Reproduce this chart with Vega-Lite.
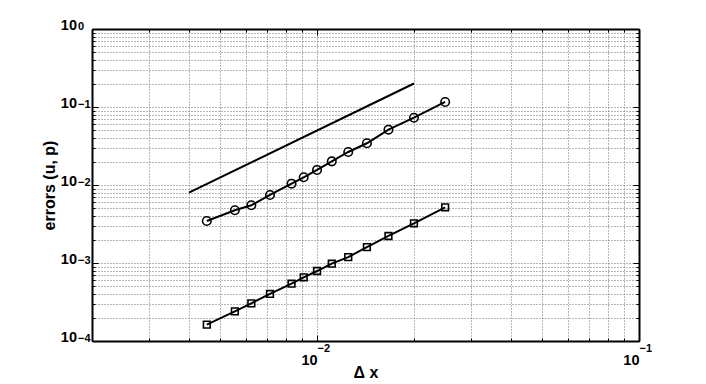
{
  "$schema": "https://vega.github.io/schema/vega-lite/v6.json",
  "width": 547,
  "height": 312,
  "autosize": {"type": "none"},
  "padding": {"left": 92, "top": 29, "right": 67, "bottom": 43},
  "background": "#ffffff",
  "config": {
    "view": {"stroke": null},
    "axis": {
      "labelFont": "Liberation Sans",
      "titleFont": "Liberation Sans",
      "labelFontWeight": "bold",
      "titleFontWeight": "bold",
      "labelColor": "#000000",
      "titleColor": "#000000",
      "tickColor": "#000000",
      "domainColor": "#000000",
      "labelOverlap": false,
      "labelFlush": false,
      "labelBound": false
    }
  },
  "datasets": {
    "ref": [
      {"dx": 0.004, "err": 0.008},
      {"dx": 0.02, "err": 0.2}
    ],
    "err": [
      {"series": "u", "dx": 0.0045455, "err": 0.00346},
      {"series": "u", "dx": 0.0055556, "err": 0.00474},
      {"series": "u", "dx": 0.00625, "err": 0.0055},
      {"series": "u", "dx": 0.0071429, "err": 0.00745},
      {"series": "u", "dx": 0.0083333, "err": 0.0104},
      {"series": "u", "dx": 0.0090909, "err": 0.01256},
      {"series": "u", "dx": 0.01, "err": 0.0156},
      {"series": "u", "dx": 0.0111111, "err": 0.0201},
      {"series": "u", "dx": 0.0125, "err": 0.0265},
      {"series": "u", "dx": 0.0142857, "err": 0.0343},
      {"series": "u", "dx": 0.0166667, "err": 0.0512},
      {"series": "u", "dx": 0.02, "err": 0.0729},
      {"series": "u", "dx": 0.025, "err": 0.116},
      {"series": "p", "dx": 0.0045455, "err": 0.000162},
      {"series": "p", "dx": 0.0055556, "err": 0.00024},
      {"series": "p", "dx": 0.00625, "err": 0.000304},
      {"series": "p", "dx": 0.0071429, "err": 0.000401},
      {"series": "p", "dx": 0.0083333, "err": 0.000543},
      {"series": "p", "dx": 0.0090909, "err": 0.000656},
      {"series": "p", "dx": 0.01, "err": 0.000789},
      {"series": "p", "dx": 0.0111111, "err": 0.00098},
      {"series": "p", "dx": 0.0125, "err": 0.00119},
      {"series": "p", "dx": 0.0142857, "err": 0.0016},
      {"series": "p", "dx": 0.0166667, "err": 0.00222},
      {"series": "p", "dx": 0.02, "err": 0.00323},
      {"series": "p", "dx": 0.025, "err": 0.00518}
    ]
  },
  "layer": [
    {
      "data": {"name": "ref"},
      "mark": {"type": "line", "color": "#000000", "strokeWidth": 2},
      "encoding": {
        "x": {"field": "dx", "type": "quantitative",
          "scale": {"type": "log", "domain": [0.002, 0.1], "nice": false},
          "axis": {"orient": "bottom", "title": null,
            "values": [0.002, 0.003, 0.004, 0.005, 0.006, 0.007, 0.008, 0.009, 0.01, 0.02, 0.03, 0.04, 0.05, 0.06, 0.07, 0.08, 0.09, 0.1],
            "grid": true, "gridDash": [1, 2], "gridColor": "#6e6e6e", "gridWidth": 1,
            "ticks": true, "tickSize": -3, "tickWidth": 1, "labels": false, "domain": false}},
        "y": {"field": "err", "type": "quantitative",
          "scale": {"type": "log", "domain": [0.0001, 1], "nice": false},
          "axis": {"orient": "left", "title": null,
            "values": [0.0001, 0.0002, 0.0003, 0.0004, 0.0005, 0.0006, 0.0007, 0.0008, 0.0009, 0.001, 0.002, 0.003, 0.004, 0.005, 0.006, 0.007, 0.008, 0.009, 0.01, 0.02, 0.03, 0.04, 0.05, 0.06, 0.07, 0.08, 0.09, 0.1, 0.2, 0.3, 0.4, 0.5, 0.6, 0.7, 0.8, 0.9, 1],
            "grid": true, "gridDash": [1, 2], "gridColor": "#6e6e6e", "gridWidth": 1,
            "ticks": true, "tickSize": -3, "tickWidth": 1, "labels": false, "domain": false}}
      }
    },
    {
      "data": {"name": "err"},
      "mark": {"type": "line", "color": "#000000", "strokeWidth": 2},
      "encoding": {
        "detail": {"field": "series", "type": "nominal"},
        "x": {"field": "dx", "type": "quantitative",
          "scale": {"type": "log", "domain": [0.002, 0.1], "nice": false},
          "axis": {"orient": "bottom", "title": null, "values": [0.01, 0.1],
            "grid": false, "ticks": true, "tickSize": -6, "tickWidth": 1, "labels": false,
            "domain": true, "domainWidth": 2, "zindex": 1}},
        "y": {"field": "err", "type": "quantitative",
          "scale": {"type": "log", "domain": [0.0001, 1], "nice": false},
          "axis": {"orient": "left", "title": null, "values": [0.0001, 0.001, 0.01, 0.1, 1],
            "grid": false, "ticks": true, "tickSize": -6, "tickWidth": 1, "labels": false,
            "domain": true, "domainWidth": 2, "zindex": 1}}
      }
    },
    {
      "data": {"name": "err"},
      "mark": {"type": "point", "filled": false, "color": "#000000", "strokeWidth": 1.6, "opacity": 1},
      "encoding": {
        "shape": {"field": "series", "type": "nominal", "scale": {"domain": ["u", "p"], "range": ["circle", "square"]}, "legend": null},
        "size": {"field": "series", "type": "nominal", "scale": {"domain": ["u", "p"], "range": [72, 45]}, "legend": null},
        "x": {"field": "dx", "type": "quantitative",
          "scale": {"type": "log", "domain": [0.002, 0.1], "nice": false},
          "axis": {"orient": "bottom", "values": [0.01, 0.1], "grid": false, "ticks": false, "domain": false,
            "labels": true, "labelExpr": "'10'", "labelFont": "Liberation Sans", "labelFontWeight": "bold", "labelFontSize": 14.5, "labelAlign": "right", "labelBaseline": "alphabetic",
            "labelPadding": 23, "labelDx": 1.5,
            "title": "Δ x", "titleFontSize": 16, "titleBaseline": "alphabetic", "titleY": 36}},
        "y": {"field": "err", "type": "quantitative",
          "scale": {"type": "log", "domain": [0.0001, 1], "nice": false},
          "axis": {"orient": "left", "values": [0.0001, 0.001, 0.01, 0.1, 1], "grid": false, "ticks": false, "domain": false,
            "labels": true, "labelExpr": "'10'", "labelFont": "Liberation Sans", "labelFontWeight": "bold", "labelFontSize": 14.5, "labelAlign": "right", "labelBaseline": "alphabetic",
            "labelPadding": 15.5, "labelDy": 6,
            "title": "errors (u, p)", "titleFontSize": 16, "titleAngle": -90, "titleAlign": "center", "titleBaseline": "alphabetic",
            "titleX": -38, "titleY": 156}}
      }
    },
    {
      "data": {"name": "err"},
      "mark": {"type": "point", "opacity": 0},
      "encoding": {
        "x": {"field": "dx", "type": "quantitative",
          "scale": {"type": "log", "domain": [0.002, 0.1], "nice": false},
          "axis": {"orient": "bottom", "title": null, "values": [0.01, 0.1], "grid": false, "ticks": false, "domain": false,
            "labels": true, "labelExpr": "'−' + round(-log(datum.value) / LN10)", "labelFont": "Liberation Sans", "labelFontWeight": "bold", "labelFontSize": 11, "labelAlign": "left", "labelBaseline": "alphabetic",
            "labelPadding": 10.5, "labelDx": 3}},
        "y": {"field": "err", "type": "quantitative",
          "scale": {"type": "log", "domain": [0.0001, 1], "nice": false},
          "axis": {"orient": "left", "title": null, "values": [0.0001, 0.001, 0.01, 0.1, 1], "grid": false, "ticks": false, "domain": false,
            "labels": true, "labelExpr": "datum.value >= 0.5 ? '0' : '−' + round(-log(datum.value) / LN10)", "labelFont": "Liberation Sans", "labelFontWeight": "bold", "labelFontSize": 11, "labelAlign": "left", "labelBaseline": "alphabetic",
            "labelPadding": 14.5, "labelDy": -2.5}}
      }
    },
    {
      "data": {"name": "err"},
      "mark": {"type": "point", "opacity": 0},
      "encoding": {
        "x": {"field": "dx", "type": "quantitative",
          "scale": {"type": "log", "domain": [0.002, 0.1], "nice": false},
          "axis": {"orient": "top", "title": null,
            "values": [0.002, 0.003, 0.004, 0.005, 0.006, 0.007, 0.008, 0.009, 0.01, 0.02, 0.03, 0.04, 0.05, 0.06, 0.07, 0.08, 0.09, 0.1],
            "grid": false, "ticks": true, "tickSize": -3, "tickWidth": 1, "labels": false,
            "domain": true, "domainWidth": 2, "zindex": 1}},
        "y": {"field": "err", "type": "quantitative",
          "scale": {"type": "log", "domain": [0.0001, 1], "nice": false},
          "axis": {"orient": "right", "title": null,
            "values": [0.0001, 0.0002, 0.0003, 0.0004, 0.0005, 0.0006, 0.0007, 0.0008, 0.0009, 0.001, 0.002, 0.003, 0.004, 0.005, 0.006, 0.007, 0.008, 0.009, 0.01, 0.02, 0.03, 0.04, 0.05, 0.06, 0.07, 0.08, 0.09, 0.1, 0.2, 0.3, 0.4, 0.5, 0.6, 0.7, 0.8, 0.9, 1],
            "grid": false, "ticks": true, "tickSize": -3, "tickWidth": 1, "labels": false,
            "domain": true, "domainWidth": 2, "zindex": 1}}
      }
    },
    {
      "data": {"name": "err"},
      "mark": {"type": "point", "opacity": 0},
      "encoding": {
        "x": {"field": "dx", "type": "quantitative",
          "scale": {"type": "log", "domain": [0.002, 0.1], "nice": false},
          "axis": {"orient": "top", "title": null, "values": [0.01, 0.1],
            "grid": false, "ticks": true, "tickSize": -6, "tickWidth": 1, "labels": false, "domain": false, "zindex": 1}},
        "y": {"field": "err", "type": "quantitative",
          "scale": {"type": "log", "domain": [0.0001, 1], "nice": false},
          "axis": {"orient": "right", "title": null, "values": [0.0001, 0.001, 0.01, 0.1, 1],
            "grid": false, "ticks": true, "tickSize": -6, "tickWidth": 1, "labels": false, "domain": false, "zindex": 1}}
      }
    }
  ],
  "resolve": {"axis": {"x": "independent", "y": "independent"}}
}
